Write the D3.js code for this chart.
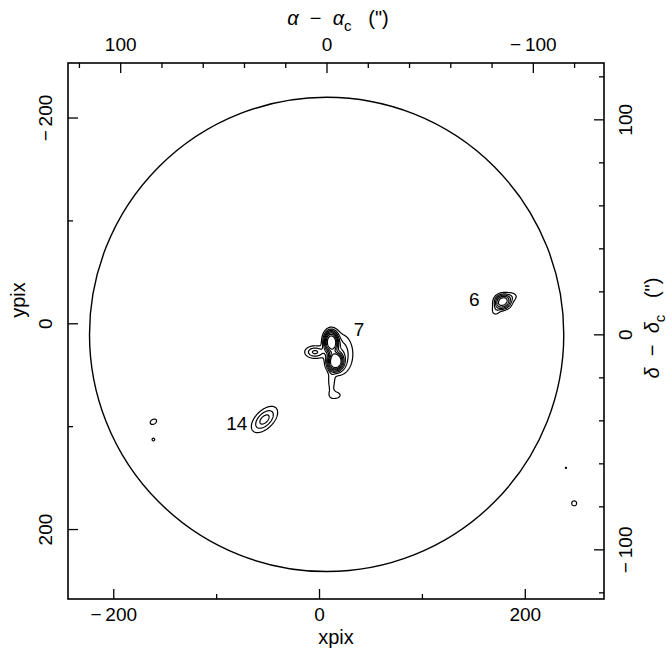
<!DOCTYPE html>
<meta charset="utf-8">
<script src="https://d3js.org/d3.v7.min.js"></script>
<style>
body { margin: 0; background: #fff; }
text { font-family: "Liberation Sans", Arial, sans-serif; fill: #000; }
.axis line { stroke: #000; stroke-width: 1.3px; }
.axis text { font-size: 19px; }
.lab { font-size: 20px; white-space: pre; }
</style>
<div id="chart"></div>
<script>

// detector window shown (pixels) and the sky offsets along the frame edges
var xWindow = [-244, 277], yWindow = [-253, 268];
var raWindow = [125.3, -134.5], decWindow = [126.2, -123.1];

// tick values
var xMajor = [-200, 0, 200], xMinor = [-100, 100];
var yMajor = [-200, 0, 200], yMinor = [-100, 100];
var raMajor = [100, 0, -100], raMinor = [120, 80, 60, 40, 20, -20, -40, -60, -80, -120];
var decMajor = [100, 0, -100], decMinor = [120, 80, 60, 40, 20, -20, -40, -60, -80, -120];

// field of view: centre (xpix, ypix) and radius in pixels
var fovCentre = [7.4, 10.8], fovRadius = 230.5;

// emission components (xpix, ypix, widths, tilt, strength, flatness)
var srcX     = [11.5, 15.5, 21, -4, 12, 16,     178.5, 187, 172,     -53,   -161, -161, 240, 248];
var srcY     = [17.5, 37.5, 30, 28, 57, 70,     -21, -26, -13,       93.5,  95.7, 113, 140.5, 175];
var srcSx    = [5, 5.5, 8, 6.5, 2.5, 5.5,       5.5, 5, 3.5,         10,    6.5, 4.5, 3, 5.5];
var srcSy    = [7.5, 6.5, 13, 4, 8, 3.5,        5, 3.5, 4.5,         5.5,   4.5, 4.5, 3, 5.5];
var srcAngle = [0, 0, 0, 0, 0, 0,               0, 0, 20,            -45,   -30, 0, 0, 0];
var srcAmp   = [7.2, 6.8, 3, 3.2, 1.5, 1.35,    5.5, 1.5, 1.5,       3.5,   1.14, 1.04, 1.02, 1.1];
var srcShape = [1.5, 1.5, 1, 1, 1, 1,           1.4, 1, 1,           1,     1, 1, 1, 1];

// contour levels
var levels = [1, 2, 3, 4, 5, 6, 7];

// source labels
var labelText = ["7", "6", "14"];
var labelX = [38.9, 150.9, -80];
var labelY = [5.6, -23.3, 97.2];

var W = 672, H = 655;
var plotL = 68, plotR = 604, plotT = 63, plotB = 599;

var svg = d3.select("#chart").append("svg")
    .attr("width", W)
    .attr("height", H);

var x = d3.scaleLinear().domain(xWindow).range([plotL, plotR]);
var y = d3.scaleLinear().domain(yWindow).range([plotT, plotB]);
var ra = d3.scaleLinear().domain(raWindow).range([plotL, plotR]);
var dec = d3.scaleLinear().domain(decWindow).range([plotT, plotB]);

var fmt = function(d) { return d < 0 ? "\u2212\u2009" + Math.abs(d) : String(d); };

svg.append("defs").append("clipPath")
    .attr("id", "clip")
  .append("rect")
    .attr("x", plotL).attr("y", plotT)
    .attr("width", plotR - plotL).attr("height", plotB - plotT);

// build the smoothed map on a grid and contour it
var step = 0.5;
var nx = Math.ceil((xWindow[1] - xWindow[0]) / step),
    ny = Math.ceil((yWindow[1] - yWindow[0]) / step);
var grid = new Float64Array(nx * ny);
for (var k = 0; k < srcX.length; k++) {
  var th = srcAngle[k] * Math.PI / 180, c = Math.cos(th), s = Math.sin(th);
  var sx = srcSx[k], sy = srcSy[k], R = 5 * Math.max(sx, sy);
  var i0 = Math.max(0, Math.floor((srcX[k] - R - xWindow[0]) / step)),
      i1 = Math.min(nx - 1, Math.ceil((srcX[k] + R - xWindow[0]) / step)),
      j0 = Math.max(0, Math.floor((srcY[k] - R - yWindow[0]) / step)),
      j1 = Math.min(ny - 1, Math.ceil((srcY[k] + R - yWindow[0]) / step));
  for (var j = j0; j <= j1; j++) {
    var py = yWindow[0] + (j + 0.5) * step - srcY[k];
    for (var i = i0; i <= i1; i++) {
      var px = xWindow[0] + (i + 0.5) * step - srcX[k];
      var u = px * c + py * s, v = -px * s + py * c;
      var q = 0.5 * (u * u / (sx * sx) + v * v / (sy * sy));
      grid[j * nx + i] += srcAmp[k] * Math.exp(-Math.pow(q, srcShape[k]));
    }
  }
}

var contours = d3.contours().size([nx, ny]).thresholds(levels)(grid);

var proj = d3.geoTransform({
  point: function(gx, gy) {
    this.stream.point(x(xWindow[0] + gx * step), y(yWindow[0] + gy * step));
  }
});

svg.append("g")
    .attr("clip-path", "url(#clip)")
  .selectAll("path")
  .data(contours)
  .enter().append("path")
    .attr("d", d3.geoPath(proj))
    .attr("fill", "none")
    .attr("stroke", "#000")
    .attr("stroke-width", 1.2);

// field of view
svg.append("circle")
    .attr("cx", x(fovCentre[0]))
    .attr("cy", y(fovCentre[1]))
    .attr("r", x(fovCentre[0] + fovRadius) - x(fovCentre[0]))
    .attr("fill", "none")
    .attr("stroke", "#000")
    .attr("stroke-width", 1.4);

// source labels
svg.selectAll(".src")
  .data(labelText)
  .enter().append("text")
    .attr("class", "src")
    .attr("x", function(d, i) { return x(labelX[i]); })
    .attr("y", function(d, i) { return y(labelY[i]); })
    .attr("dy", "0.35em")
    .attr("text-anchor", "middle")
    .style("font-size", "19px")
    .text(function(d) { return d; });

// axes, ticks pointing inwards
function axis(gen, tx, ty, values, size, labels) {
  var g = svg.append("g")
      .attr("class", "axis")
      .attr("transform", "translate(" + tx + "," + ty + ")")
      .call(gen.tickValues(values).tickSize(-size).tickFormat(labels ? fmt : ""));
  g.select(".domain").remove();
  return g;
}

axis(d3.axisBottom(x), 0, plotB, xMinor, 5, false);
axis(d3.axisBottom(x).tickPadding(9), 0, plotB, xMajor, 10, true);

axis(d3.axisTop(ra), 0, plotT, raMinor, 5, false);
axis(d3.axisTop(ra).tickPadding(12), 0, plotT, raMajor, 10, true);

axis(d3.axisLeft(y), plotL, 0, yMinor, 5, false);
axis(d3.axisLeft(y), plotL, 0, yMajor, 10, true)
  .selectAll("text")
    .attr("x", null).attr("dy", null)
    .attr("text-anchor", "middle")
    .attr("transform", "translate(-16,0) rotate(-90)");

axis(d3.axisRight(dec), plotR, 0, decMinor, 5, false);
axis(d3.axisRight(dec), plotR, 0, decMajor, 10, true)
  .selectAll("text")
    .attr("x", null).attr("dy", null)
    .attr("text-anchor", "middle")
    .attr("transform", "translate(28,0) rotate(-90)");

// frame
svg.append("rect")
    .attr("x", plotL).attr("y", plotT)
    .attr("width", plotR - plotL).attr("height", plotB - plotT)
    .attr("fill", "none")
    .attr("stroke", "#000")
    .attr("stroke-width", 1.6);

// axis titles
svg.append("text")
    .attr("class", "lab")
    .attr("x", (plotL + plotR) / 2).attr("y", 644)
    .attr("text-anchor", "middle")
    .text("xpix");

svg.append("text")
    .attr("class", "lab")
    .attr("text-anchor", "middle")
    .attr("transform", "translate(25,300) rotate(-90)")
    .text("ypix");

function skyTitle(t, sym) {
  t.append("tspan").style("font-style", "italic").text(sym);
  t.append("tspan").text("  \u2212  ");
  t.append("tspan").style("font-style", "italic").text(sym);
  t.append("tspan").attr("dy", 6).style("font-size", "15px").text("c");
  t.append("tspan").attr("dy", -6).text("   (\")");
}

skyTitle(svg.append("text")
    .attr("class", "lab")
    .attr("x", (plotL + plotR) / 2 + 2).attr("y", 25)
    .attr("text-anchor", "middle"), "\u03b1");

skyTitle(svg.append("text")
    .attr("class", "lab")
    .attr("text-anchor", "middle")
    .attr("transform", "translate(659,328) rotate(-90)"), "\u03b4");

</script>
